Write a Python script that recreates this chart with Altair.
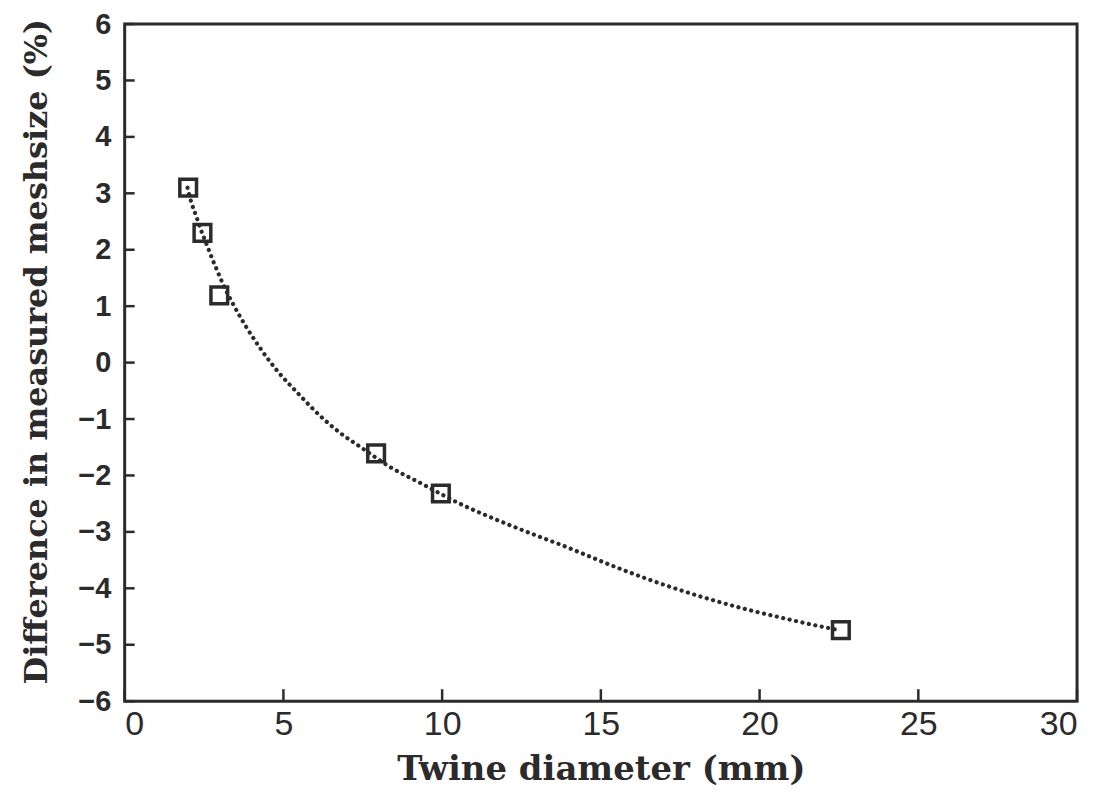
import altair as alt
import pandas as pd

# Measured points (twine diameter mm, difference %)
pt_x = [2.0, 2.45, 2.98, 7.92, 9.96, 22.56]
pt_y = [3.10, 2.30, 1.19, -1.61, -2.32, -4.74]

# Fitted curve
curve_x = [1.98, 2.1, 2.25, 2.45, 2.6, 2.75, 2.9, 3.09, 3.46, 4.24, 4.77, 5.5, 6.13, 6.75,
           7.49, 8.33, 9.37, 10.52, 11.78, 13.04, 13.88, 14.40, 15.45, 16.49, 17.54,
           18.59, 19.64, 20.68, 22.05, 22.5]
curve_y = [3.10, 2.84, 2.60, 2.28, 2.07, 1.85, 1.65, 1.40, 0.99, 0.28, -0.12, -0.57, -0.93, -1.23,
           -1.52, -1.84, -2.15, -2.49, -2.80, -3.08, -3.26, -3.38, -3.62, -3.84, -4.04,
           -4.22, -4.38, -4.52, -4.69, -4.74]

x_ticks = [0, 5, 10, 15, 20, 25, 30]
y_ticks = [-6, -5, -4, -3, -2, -1, 0, 1, 2, 3, 4, 5, 6]

W, H = 955, 679
INK = "#2b2b2b"

pts = pd.DataFrame({"x": pt_x, "y": pt_y})
crv = pd.DataFrame({"x": curve_x, "y": curve_y})
xt = pd.DataFrame({"x": x_ticks})
yt = pd.DataFrame({"y": y_ticks})

xs = alt.Scale(domain=[0, 30], nice=False, zero=False)
ys = alt.Scale(domain=[-6, 6], nice=False, zero=False)

x_axis = alt.Axis(
    values=x_ticks, format="d", tickSize=0, domain=False, grid=False,
    labelFont="Liberation Sans Narrow, Liberation Sans", labelFontSize=34, labelFontWeight="normal",
    labelColor=INK, labelPadding=6,
    title="Twine diameter (mm)", titleFont="DejaVu Serif", titleFontSize=34,
    titleFontWeight="bold", titleColor=INK, titlePadding=12,
)
y_axis = alt.Axis(
    values=y_ticks, format="d", tickSize=0, domain=False, grid=False,
    labelFont="Liberation Sans", labelFontSize=29, labelFontWeight="bold",
    labelColor=INK, labelPadding=14,
    title="Difference in measured meshsize (%)", titleFont="DejaVu Serif", titleFontSize=32,
    titleFontWeight="bold", titleColor=INK, titlePadding=24, titleY=328,
)

curve = alt.Chart(crv).mark_line(
    strokeDash=[0.1, 6.5], strokeCap="round", strokeWidth=4.2, color=INK, interpolate="monotone"
).encode(
    x=alt.X("x:Q", scale=xs, axis=x_axis),
    y=alt.Y("y:Q", scale=ys, axis=y_axis),
    order="x:Q",
)

points = alt.Chart(pts).mark_point(
    shape="square", filled=False, size=280, strokeWidth=3.5, color=INK, opacity=1
).encode(
    x=alt.X("x:Q", scale=xs),
    y=alt.Y("y:Q", scale=ys),
)

xtick_marks = alt.Chart(xt).mark_rule(strokeWidth=2.5, color=INK).encode(
    x=alt.X("x:Q", scale=xs),
    y=alt.value(H),
    y2=alt.value(H - 12),
)

ytick_marks = alt.Chart(yt).mark_rule(strokeWidth=2.5, color=INK).encode(
    y=alt.Y("y:Q", scale=ys),
    x=alt.value(0),
    x2=alt.value(10),
)

chart = alt.layer(curve, points, xtick_marks, ytick_marks).properties(
    width=W, height=H,
    autosize=alt.AutoSizeParams(type="none"),
    padding={"left": 117, "top": 15, "right": 20, "bottom": 90},
    background="white",
).configure_view(stroke=INK, strokeWidth=3)

chart.save("out.html", embed_options={"renderer": "svg", "actions": False})
